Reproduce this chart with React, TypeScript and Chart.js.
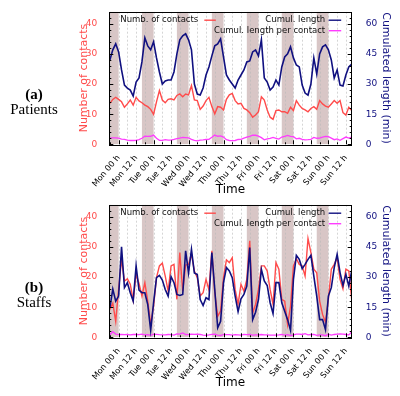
import React, { useEffect, useRef } from 'react';
import { Chart, registerables } from 'chart.js';
Chart.register(...registerables);

// time axis in hours (Mon 00 h = 0)
const hours = [-6,-4,-2,0,2,4,6,8,10,12,14,16,18,20,22,24,26,28,30,32,34,36,38,40,42,44,46,48,50,52,54,56,58,60,62,64,66,68,70,72,74,76,78,80,82,84,86,88,90,92,94,96,98,100,102,104,106,108,110,112,114,116,118,120,122,124,126,128,130,132,134,136,138,140,142,144,146,148,150,152,154,156,158,160];
const tickHours = [0,12,24,36,48,60,72,84,96,108,120,132,144,156];
const tickLabels = ['Mon 00 h','Mon 12 h','Tue 00 h','Tue 12 h','Wed 00 h','Wed 12 h','Thu 00 h','Thu 12 h','Fri 00 h','Fri 12 h','Sat 00 h','Sat 12 h','Sun 00 h','Sun 12 h'];
const bandStarts = [-8,16,40,64,88,112,136];
const bandLength = 8;
const leftTicks = [0,10,20,30,40];
const rightTicks = [0,15,30,45,60];

// (a) Patients
const patientsContacts = [13.6,14.9,15.6,14.9,14.1,12.3,13.4,14.7,13,15.6,14.4,13.8,13,12.5,11.6,9.9,14.1,17.8,14.7,13.8,14.9,15.1,14.7,16.2,16.7,15.8,16.7,16.4,19.5,14.7,14.5,11.6,12.7,14.5,15.6,12.5,10.1,12.5,12.3,11.4,14.9,16.4,16.9,14.5,13.4,13.6,11.9,11.4,10.5,9,9.7,10.8,15.8,14.7,11.4,9,8.3,11.2,11.4,10.8,10.8,10.3,12.3,11.2,14.5,13,11.9,11.4,10.8,11.9,12.5,11.6,14.5,13.4,12.7,12.3,13.4,14.5,13.6,14.5,10.5,9.7,12.3,11.2];
const patientsLength = [42,47,50,46,37,29.5,28,27,24,31,33,41,53,49,47,51,43,36,30,31.5,32,32,36,45,52,54,55,52,47,30,25,24.5,28,34.5,38.5,44,49,50,52.5,43.5,34.5,32,30,28,32,34.5,37,41,41.5,46,47,44,52,33,31,27,28.5,32,29.5,38.5,43.5,45,48.5,43,39.5,38.5,29.5,25.5,24.5,30,43,35,45,48.5,49.5,47,42,33,37,29.5,29,34.5,38.5,40];
const patientsPerContact = [3.1,3.2,3.2,3.1,2.6,2.4,2.1,1.9,1.9,2.0,2.3,3.0,4.0,3.9,4.0,4.6,3.0,2.0,2.0,2.3,2.1,2.1,2.4,2.8,3.1,3.4,3.3,3.2,2.5,2.0,1.7,2.1,2.2,2.4,2.5,3.5,4.6,4.0,4.2,3.6,2.3,1.9,1.8,1.9,2.4,2.5,3.1,3.6,4.0,4.6,4.5,4.1,3.3,2.2,2.7,3.0,3.4,2.9,2.6,3.6,4.0,4.4,3.9,3.8,2.7,3.0,2.5,2.2,2.3,2.5,3.4,3.0,3.1,3.6,3.9,3.8,3.1,2.3,2.7,2.0,2.8,3.6,3.1,3.6];

// (b) Staffs
const staffsContacts = [9.2,11.3,5.3,15.9,25.9,18.7,19.4,17.6,12.3,20.9,17.9,13.7,18.1,12,4.2,10.3,19.8,23.7,24.6,20.3,15.3,23.7,24.2,12.6,28.1,15.3,24,24.2,27.6,22,19.8,13.7,14.8,19.2,15.7,28.7,14.8,7,8.7,19.8,25.7,24.8,26.4,15.9,10.9,17.6,15.3,19.2,32,8.1,10.9,15.9,23.7,23.7,22,15.9,10.9,24.8,22.6,12.6,12,4.2,10.3,23.7,26.1,24.2,23.7,20.3,32.8,28.1,22.6,21.4,12,7.6,5,12.6,22.6,24.2,26.4,19.2,16.1,22.6,22,12.6];
const staffsLength = [14.7,24,18,20.5,45,24.7,27.2,22.2,18,35.5,23.5,22.2,22.2,16.3,3.5,17.2,29.7,30.8,28.5,23.8,20.5,30.2,27.2,21.3,20.8,21.3,43,32,43.8,32,31.3,18.8,15.8,19.7,18.8,42.2,23.8,4.7,8,27.2,34.7,33,29.7,20.5,12.8,19.2,21.3,25.5,44.7,8.8,12.5,18.8,33.8,28,25.8,17.2,11.8,27.2,27.2,17.2,13,8.8,3.5,28.8,40.8,38.8,34.2,36.3,38.8,40.8,30.5,20.5,8.8,8.8,3.8,20.5,24.7,34.7,41.3,32.2,25.8,31.3,25.5,33];
const staffsPerContact = [1.3,2.8,1.6,1.3,1.4,1.3,1.4,1.2,1.4,1.5,1.3,1.6,1.2,1.3,1.0,1.6,1.5,1.3,1.2,1.2,1.4,1.3,1.1,1.7,1.6,2.2,1.4,1.3,1.6,1.5,1.6,1.4,1.1,1.0,1.2,1.5,1.6,1.1,0.9,1.4,1.3,1.3,1.1,1.3,1.2,1.1,1.4,1.3,1.4,1.1,1.2,1.2,1.4,1.2,1.2,1.1,1.1,1.1,1.2,1.4,1.1,1.3,0.8,1.2,1.6,1.6,1.4,1.8,1.2,1.4,1.4,1.0,1.2,1.2,0.8,1.6,1.1,1.4,1.6,1.7,1.6,1.4,1.2,2.6];

const RED = 'rgb(255,75,75)';
const BLUE = 'rgb(16,16,128)';
const MAG = 'rgb(255,60,255)';
const BAND = 'rgb(216,198,198)';
const FONT = "'DejaVu Sans', sans-serif";

function pts(arr: number[]) {
  return hours.map((h, i) => ({ x: h, y: arr[i] }));
}

function buildChart(canvas: HTMLCanvasElement, contacts: number[], length: number[], perContact: number[]) {
  const decor = {
    id: 'decor',
    beforeDatasetsDraw(chart: any) {
      const { ctx, chartArea: a, scales } = chart;
      const x = scales.x;
      ctx.save();
      ctx.beginPath();
      ctx.rect(a.left, a.top, a.right - a.left, a.bottom - a.top);
      ctx.clip();
      ctx.fillStyle = BAND;
      bandStarts.forEach((s) => {
        const x0 = x.getPixelForValue(s);
        const x1 = x.getPixelForValue(s + bandLength);
        ctx.fillRect(x0, a.top, x1 - x0, a.bottom - a.top);
      });
      ctx.strokeStyle = 'rgba(185,185,185,0.6)';
      ctx.lineWidth = 1;
      ctx.setLineDash([2, 2]);
      for (let h = -6; h <= 160; h += 6) {
        const px = Math.round(x.getPixelForValue(h)) + 0.5;
        ctx.beginPath();
        ctx.moveTo(px, a.top);
        ctx.lineTo(px, a.bottom);
        ctx.stroke();
      }
      ctx.restore();
    },
    afterDatasetsDraw(chart: any) {
      const { ctx, chartArea: a, scales } = chart;
      const x = scales.x, yl = scales.y, yr = scales.y2;
      ctx.save();
      ctx.strokeStyle = '#000';
      ctx.lineWidth = 1;
      ctx.beginPath();
      for (let v = 0; v <= 44; v += 2) {
        const py = Math.round(yl.getPixelForValue(v)) + 0.5;
        const len = v % 10 === 0 ? 4 : 2;
        ctx.moveTo(a.left, py); ctx.lineTo(a.left + len, py);
      }
      for (let v = 0; v <= 66; v += 3) {
        const py = Math.round(yr.getPixelForValue(v)) + 0.5;
        const len = v % 15 === 0 ? 4 : 2;
        ctx.moveTo(a.right, py); ctx.lineTo(a.right - len, py);
      }
      for (let h = -6; h <= 160; h += 6) {
        const px = Math.round(x.getPixelForValue(h)) + 0.5;
        const len = h % 12 === 0 ? 4 : 2;
        ctx.moveTo(px, a.bottom); ctx.lineTo(px, a.bottom - len);
      }
      ctx.stroke();
      ctx.strokeRect(Math.round(a.left) + 0.5, Math.round(a.top) + 0.5, Math.round(a.right - a.left), Math.round(a.bottom - a.top));
      ctx.font = `8.5px ${FONT}`;
      ctx.fillStyle = '#111';
      ctx.textBaseline = 'middle';
      ctx.textAlign = 'right';
      const r1 = a.top + 8.5, r2 = a.top + 19;
      const items = [
        { t: 'Numb. of contacts', xr: a.left + 89, y: r1, c: RED, s0: a.left + 95, s1: a.left + 106.5 },
        { t: 'Cumul. length', xr: a.right - 26.5, y: r1, c: BLUE, s0: a.right - 23, s1: a.right - 10.5 },
        { t: 'Cumul. length per contact', xr: a.right - 26.5, y: r2, c: MAG, s0: a.right - 23, s1: a.right - 10.5 },
      ];
      items.forEach((it) => {
        ctx.fillText(it.t, it.xr, it.y);
        ctx.strokeStyle = it.c;
        ctx.lineWidth = 1.4;
        ctx.beginPath();
        ctx.moveTo(it.s0, it.y); ctx.lineTo(it.s1, it.y);
        ctx.stroke();
      });
      ctx.restore();
    },
  };

  return new Chart(canvas, {
    type: 'line',
    data: {
      datasets: [
        { label: 'Cumul. length', data: pts(length), yAxisID: 'y2', borderColor: BLUE, borderWidth: 1.6, pointRadius: 0, tension: 0 },
        { label: 'Numb. of contacts', data: pts(contacts), yAxisID: 'y', borderColor: RED, borderWidth: 1.4, pointRadius: 0, tension: 0 },
        { label: 'Cumul. length per contact', data: pts(perContact), yAxisID: 'y2', borderColor: MAG, borderWidth: 1.3, pointRadius: 0, tension: 0 },
      ],
    },
    options: {
      animation: false,
      responsive: false,
      maintainAspectRatio: false,
      layout: { padding: { top: 11.7, left: 74, right: 4, bottom: 0 } },
      plugins: { legend: { display: false }, tooltip: { enabled: false } },
      scales: {
        x: {
          type: 'linear',
          min: -6.4,
          max: 160,
          grid: { display: false },
          border: { display: false },
          afterBuildTicks: (s: any) => { s.ticks = tickHours.map((v) => ({ value: v })); },
          afterFit: (s: any) => { s.height = 55.7; },
          ticks: {
            autoSkip: false,
            minRotation: 50,
            maxRotation: 50,
            padding: 1,
            color: '#000',
            font: { family: FONT, size: 8.2 },
            callback: (v: any) => tickLabels[tickHours.indexOf(Number(v))],
          },
          title: { display: true, text: 'Time', color: '#000', font: { family: FONT, size: 12 }, padding: { top: 0, bottom: 3 } },
        },
        y: {
          position: 'left',
          min: 0,
          max: 44,
          grid: { display: false },
          border: { display: false },
          afterBuildTicks: (s: any) => { s.ticks = leftTicks.map((v) => ({ value: v })); },
          afterFit: (s: any) => { s.width = 35.3; },
          ticks: { color: RED, padding: 4, font: { family: FONT, size: 9 } },
          title: { display: true, text: 'Number of contacts', color: RED, font: { family: FONT, size: 11 }, padding: { top: 4, bottom: 0 } },
        },
        y2: {
          position: 'right',
          min: 0,
          max: 66,
          grid: { display: false },
          border: { display: false },
          afterBuildTicks: (s: any) => { s.ticks = rightTicks.map((v) => ({ value: v })); },
          afterFit: (s: any) => { s.width = 44.3; },
          ticks: { color: BLUE, padding: 6, font: { family: FONT, size: 9 } },
          title: { display: true, text: 'Cumulated length (min)', color: BLUE, font: { family: FONT, size: 11 }, padding: { top: 4, bottom: 0 } },
        },
      },
    },
    plugins: [decor],
  } as any);
}

function Panel({ top, contacts, length, perContact }: any) {
  const ref = useRef<HTMLCanvasElement>(null);
  useEffect(() => {
    const c = buildChart(ref.current!, contacts, length, perContact);
    return () => c.destroy();
  }, []);
  return (
    <canvas ref={ref} width={400} height={200} style={{ position: 'absolute', left: 0, top, width: 400, height: 200 }} />
  );
}

const labelStyle: React.CSSProperties = {
  position: 'absolute', left: 0, width: 68, textAlign: 'center',
  fontFamily: "'Liberation Serif', 'DejaVu Serif', serif", fontSize: 15, lineHeight: '15px', color: '#000',
};

export default function App() {
  return (
    <div style={{ position: 'fixed', left: 0, top: 0, width: 400, height: 396, background: '#fff', overflow: 'hidden' }}>
      <Panel top={0} contacts={patientsContacts} length={patientsLength} perContact={patientsPerContact} />
      <Panel top={193.3} contacts={staffsContacts} length={staffsLength} perContact={staffsPerContact} />
      <div style={{ ...labelStyle, top: 87 }}><b>(a)</b><br />Patients</div>
      <div style={{ ...labelStyle, top: 280 }}><b>(b)</b><br />Staffs</div>
    </div>
  );
}
